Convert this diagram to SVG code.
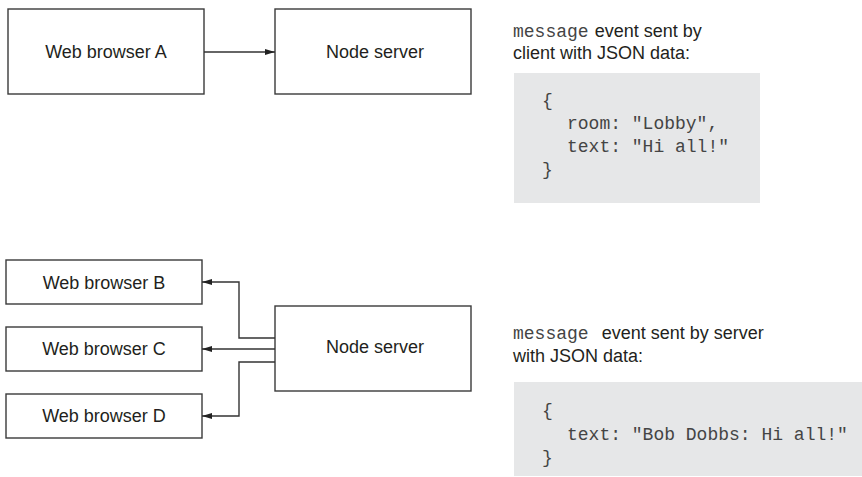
<svg xmlns="http://www.w3.org/2000/svg" width="862" height="477" viewBox="0 0 862 477">
<style>
.box{fill:#fff;stroke:#3a3a3a;stroke-width:1.4}
.lbl{font-family:"Liberation Sans",Arial,sans-serif;font-size:18px;fill:#231f20;text-anchor:middle}
.cap{font-family:"Liberation Sans",Arial,sans-serif;font-size:18px;fill:#231f20}
.mono{font-family:"Liberation Mono","Courier New",monospace;font-size:18px;fill:#444}
.code{fill:#e6e7e8}
.con{fill:none;stroke:#333;stroke-width:1.4}
</style>
<defs>
<marker id="ah" viewBox="0 0 10 6" refX="10" refY="3" markerWidth="10" markerHeight="6" markerUnits="userSpaceOnUse" orient="auto">
<path d="M0,0 L10,3 L0,6 z" fill="#222"/>
</marker>
</defs>
<g id="browserA"><rect class="box" x="8" y="9" width="196" height="85"/><text class="lbl" x="106" y="58">Web browser A</text></g>
<g id="server1"><rect class="box" x="275" y="9" width="196" height="85"/><text class="lbl" x="375" y="58">Node server</text></g>
<g id="browserB"><rect class="box" x="6" y="260" width="196" height="44"/><text class="lbl" x="104" y="289">Web browser B</text></g>
<g id="browserC"><rect class="box" x="6" y="327" width="196" height="44"/><text class="lbl" x="104" y="355">Web browser C</text></g>
<g id="browserD"><rect class="box" x="6" y="394" width="196" height="44"/><text class="lbl" x="104" y="422">Web browser D</text></g>
<g id="server2"><rect class="box" x="275" y="306" width="196" height="85"/><text class="lbl" x="375" y="353">Node server</text></g>
<g id="connectors">
<path class="con" d="M204,52 H275" marker-end="url(#ah)"/>
<path class="con" d="M275,338 H239 V282 H202" marker-end="url(#ah)"/>
<path class="con" d="M275,349 H202" marker-end="url(#ah)"/>
<path class="con" d="M275,362 H239 V416 H202" marker-end="url(#ah)"/>
</g>
<g id="note1">
<text x="513" y="37"><tspan class="mono">message</tspan><tspan class="cap" dx="6">event sent by</tspan></text>
<text class="cap" x="513" y="59">client with JSON data:</text>
<rect class="code" x="514" y="73" width="246" height="130"/>
<text class="mono" x="542" y="106">{</text>
<text class="mono" x="567" y="129">room: "Lobby",</text>
<text class="mono" x="567" y="152">text: "Hi all!"</text>
<text class="mono" x="542" y="175">}</text>
</g>
<g id="note2">
<text x="513" y="339"><tspan class="mono">message</tspan><tspan class="cap" dx="13">event sent by server</tspan></text>
<text class="cap" x="513" y="362">with JSON data:</text>
<rect class="code" x="514" y="382" width="348" height="94"/>
<text class="mono" x="542" y="416">{</text>
<text class="mono" x="567" y="440">text: "Bob Dobbs: Hi all!"</text>
<text class="mono" x="542" y="463">}</text>
</g>
</svg>
